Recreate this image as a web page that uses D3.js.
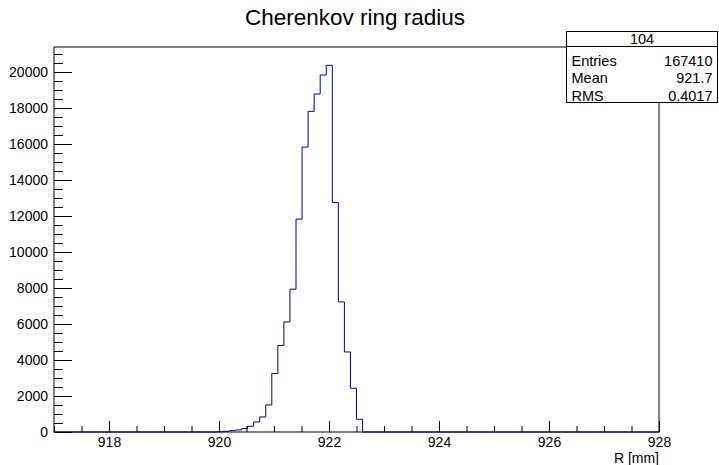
<!DOCTYPE html>
<html>
<head>
<meta charset="utf-8">
<script src="https://cdn.jsdelivr.net/npm/d3@7"></script>
<style>
  html, body { margin: 0; padding: 0; background: #fff; }
  svg { display: block; font-family: "Liberation Sans", Arial, Helvetica, sans-serif; }
</style>
</head>
<body>
<script>
// Histogram of reconstructed Cherenkov ring radius: 100 bins from 917 to 928 mm
const binLow = 917;
const binHigh = 928;
const nBins = 100;
const counts = [
  0, 0, 0, 0, 0, 0, 0, 0, 0, 0,
  0, 0, 0, 0, 0, 0, 0, 0, 0, 0,
  0, 0, 0, 0, 0, 0, 0, 10, 40, 76,
  113, 187, 317, 558, 836, 1503, 3247, 4804, 6116, 7935,
  11827, 15830, 17815, 18777, 19833, 20370, 12755, 7228, 4448, 2430,
  706, 0, 0, 0, 0, 0, 0, 0, 0, 0,
  0, 0, 0, 0, 0, 0, 0, 0, 0, 0,
  0, 0, 0, 0, 0, 0, 0, 0, 0, 0,
  0, 0, 0, 0, 0, 0, 0, 0, 0, 0,
  0, 0, 0, 0, 0, 0, 0, 0, 0, 0
];
const xMajorTicks = [918, 920, 922, 924, 926, 928];
const yMajorTicks = [0, 2000, 4000, 6000, 8000, 10000, 12000, 14000, 16000, 18000, 20000];
const yMax = 21390;

const titleText = "Cherenkov ring radius";
const xAxisTitle = "R [mm]";
const statsName = "104";
const statsLabels = ["Entries", "Mean", "RMS"];
const statsValues = ["167410", "921.7", "0.4017"];

const W = 719, H = 465;
const frame = { left: 54, right: 659, top: 47, bottom: 432 };

const svg = d3.select("body").append("svg").attr("width", W).attr("height", H);

const x = d3.scaleLinear().domain([binLow, binHigh]).range([frame.left, frame.right]);
const y = d3.scaleLinear().domain([0, yMax]).range([frame.bottom, frame.top]);

// Minor tick positions
const xMinor = d3.range(917, 928.001, 0.5).filter(v => !xMajorTicks.some(t => Math.abs(t - v) < 1e-6));
const yMinor = d3.range(0, yMax, 500).filter(v => v % 2000 !== 0);

// X axis
const gx = svg.append("g").attr("transform", `translate(0,${frame.bottom})`);
gx.call(d3.axisBottom(x).tickValues(xMajorTicks).tickSize(-11).tickPadding(5).tickFormat(d3.format("d")));
const gxm = svg.append("g").attr("transform", `translate(0,${frame.bottom})`);
gxm.call(d3.axisBottom(x).tickValues(xMinor).tickSize(-6).tickFormat(""));

// Y axis
const gy = svg.append("g").attr("transform", `translate(${frame.left},0)`);
gy.call(d3.axisLeft(y).tickValues(yMajorTicks).tickSize(-18).tickPadding(6).tickFormat(d3.format("d")));
const gym = svg.append("g").attr("transform", `translate(${frame.left},0)`);
gym.call(d3.axisLeft(y).tickValues(yMinor).tickSize(-9).tickFormat(""));

svg.selectAll(".domain").remove();
svg.selectAll(".tick line").attr("stroke", "#000").attr("stroke-width", 1);
svg.selectAll(".tick text").attr("fill", "#000").style("font-size", "14px")
  .style("font-family", "'Liberation Sans', Arial, sans-serif");

// Histogram outline as a step path
const binW = (binHigh - binLow) / nBins;
let pts = [[binLow, 0]];
counts.forEach((c, i) => {
  pts.push([binLow + i * binW, c]);
  pts.push([binLow + (i + 1) * binW, c]);
});
pts.push([binHigh, 0]);
const line = d3.line().x(d => x(d[0])).y(d => y(d[1]));
svg.append("path").attr("d", line(pts))
  .attr("fill", "none").attr("stroke", "#000099").attr("stroke-width", 1);

// Frame
svg.append("rect")
  .attr("x", frame.left).attr("y", frame.top)
  .attr("width", frame.right - frame.left).attr("height", frame.bottom - frame.top)
  .attr("fill", "none").attr("stroke", "#000").attr("stroke-width", 1);

// Title
svg.append("text").attr("x", 355).attr("y", 25).attr("text-anchor", "middle")
  .style("font-size", "22.5px").text(titleText);

// Axis title
svg.append("text").attr("x", frame.right).attr("y", 463).attr("text-anchor", "end")
  .style("font-size", "14px").text(xAxisTitle);

// Statistics box
const sb = { x: 566.5, y: 31.5, w: 151, h: 71 };
const g = svg.append("g");
g.append("rect").attr("x", sb.x).attr("y", sb.y).attr("width", sb.w).attr("height", sb.h)
  .attr("fill", "#fff").attr("stroke", "#000").attr("stroke-width", 1);
g.append("line").attr("x1", sb.x).attr("x2", sb.x + sb.w).attr("y1", 46.5).attr("y2", 46.5)
  .attr("stroke", "#000");
g.append("text").attr("x", sb.x + sb.w / 2).attr("y", 43.5).attr("text-anchor", "middle")
  .style("font-size", "14.5px").text(statsName);
statsLabels.forEach((lab, i) => {
  const yy = 65.5 + i * 17.5;
  g.append("text").attr("x", sb.x + 5).attr("y", yy).style("font-size", "14.5px").text(lab);
  g.append("text").attr("x", sb.x + sb.w - 5).attr("y", yy).attr("text-anchor", "end")
    .style("font-size", "14.5px").text(statsValues[i]);
});
</script>
</body>
</html>
